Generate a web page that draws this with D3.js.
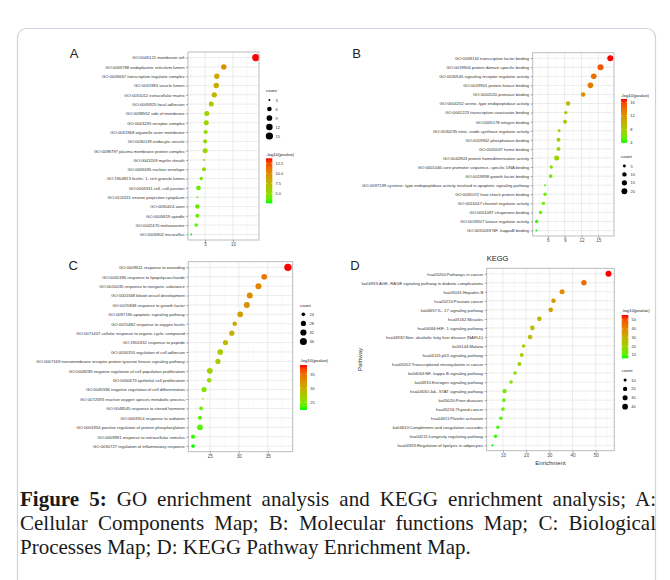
<!DOCTYPE html>
<html>
<head>
<meta charset="utf-8">
<script src="https://cdn.jsdelivr.net/npm/d3@7"></script>
<style>
  body { margin: 0; background: #fff; }
  #wrap { position: relative; width: 670px; height: 580px; overflow: hidden; }
  #wrap svg { position: absolute; left: 0; top: 0; }
  .cap {
    position: absolute; left: 20px; width: 636px;
    font-family: "Liberation Serif", "Times New Roman", serif;
    font-size: 21px; line-height: 24px; color: #1a1a1a; white-space: nowrap;
  }
  .cap.j { white-space: normal; text-align: justify; text-align-last: justify; }
</style>
</head>
<body>
<div id="wrap"></div>
<script>
// A: cellular components
const ccTerms = [
  'GO:0045121 membrane raft',
  'GO:0005788 endoplasmic reticulum lumen',
  'GO:0005667 transcription regulator complex',
  'GO:0031983 vesicle lumen',
  'GO:0031012 extracellular matrix',
  'GO:0005925 focal adhesion',
  'GO:0098552 side of membrane',
  'GO:0043235 receptor complex',
  'GO:0031968 organelle outer membrane',
  'GO:0030139 endocytic vesicle',
  'GO:0098797 plasma membrane protein complex',
  'GO:0043209 myelin sheath',
  'GO:0005635 nuclear envelope',
  'GO:1904813 ficolin- 1- rich granule lumen',
  'GO:0005911 cell- cell junction',
  'GO:0120111 neuron projection cytoplasm',
  'GO:0030424 axon',
  'GO:0005819 spindle',
  'GO:0042470 melanosome',
  'GO:0005902 microvillus',
]
const ccEnrich = [14.1, 8.35, 7.1, 7.0, 6.65, 6.1, 5.3, 5.2, 5.1, 5.0, 5.0, 4.8, 4.8, 4.3, 3.8, 3.6, 3.6, 3.6, 3.4, 2.5]
const ccCount = [15, 8, 8, 8, 8, 7, 7, 7, 5, 5, 7, 3, 5, 4, 6, 3, 6, 5, 4, 3]
const ccLogP = [13.75, 9.8, 8.3, 8.1, 7.6, 6.5, 5.6, 5.5, 5.3, 5.2, 5.4, 4.6, 4.8, 4.3, 3.8, 3.6, 3.7, 3.6, 3.3, 2.5]
const ccXTicks = [5, 10]
const ccCountBreaks = [3, 6, 9, 12, 15]
const ccColorBreaks = [5, 7.5, 10, 12.5]

// B: molecular functions
const mfTerms = [
  'GO:0008134 transcription factor binding',
  'GO:0019904 protein domain specific binding',
  'GO:0030545 signaling receptor regulator activity',
  'GO:0019901 protein kinase binding',
  'GO:0002020 protease binding',
  'GO:0004252 serine- type endopeptidase activity',
  'GO:0001223 transcription coactivator binding',
  'GO:0005178 integrin binding',
  'GO:0030235 nitric- oxide synthase regulator activity',
  'GO:0019902 phosphatase binding',
  'GO:0020037 heme binding',
  'GO:0042803 protein homodimerization activity',
  'GO:0001046 core promoter sequence- specific DNA binding',
  'GO:0019838 growth factor binding',
  'GO:0097199 cysteine- type endopeptidase activity involved in apoptotic signaling pathway',
  'GO:0031072 heat shock protein binding',
  'GO:0016247 channel regulator activity',
  'GO:0051087 chaperone binding',
  'GO:0019207 kinase regulator activity',
  'GO:0051059 NF- kappaB binding',
]
const mfEnrich = [17.15, 15.4, 14.2, 13.6, 12.3, 9.6, 9.2, 9.07, 8.0, 7.9, 7.9, 7.57, 6.6, 6.5, 5.5, 5.5, 5.2, 4.7, 4.0, 3.95]
const mfCount = [21, 21, 18, 18, 11, 10, 6, 8, 5, 8, 8, 14, 6, 7, 4, 6, 6, 6, 6, 4]
const mfLogP = [17, 15.2, 14.0, 13.6, 12.2, 9.4, 8.9, 8.8, 7.5, 7.4, 7.3, 7.6, 6.0, 6.0, 5.3, 5.4, 5.0, 4.8, 4.2, 3.9]
const mfXTicks = [6, 9, 12, 15]
const mfCountBreaks = [5, 10, 15, 20]
const mfColorBreaks = [4, 8, 12, 16]

// C: biological processes
const bpTerms = [
  'GO:0009611 response to wounding',
  'GO:0032496 response to lipopolysaccharide',
  'GO:0010035 response to inorganic substance',
  'GO:0001568 blood vessel development',
  'GO:0070848 response to growth factor',
  'GO:0097190 apoptotic signaling pathway',
  'GO:0070482 response to oxygen levels',
  'GO:0071407 cellular response to organic cyclic compound',
  'GO:1901652 response to peptide',
  'GO:0030155 regulation of cell adhesion',
  'GO:0007169 transmembrane receptor protein tyrosine kinase signaling pathway',
  'GO:0008285 negative regulation of cell population proliferation',
  'GO:0050673 epithelial cell proliferation',
  'GO:0045596 negative regulation of cell differentiation',
  'GO:0072593 reactive oxygen species metabolic process',
  'GO:0048545 response to steroid hormone',
  'GO:0009314 response to radiation',
  'GO:0001934 positive regulation of protein phosphorylation',
  'GO:0009991 response to extracellular stimulus',
  'GO:0050727 regulation of inflammatory response',
]
const bpEnrich = [38.5, 34.4, 33.4, 31.9, 31.4, 30.25, 29.3, 28.8, 27.7, 26.8, 26.4, 25.0, 24.9, 24.0, 23.8, 23.5, 23.3, 23.3, 22.1, 22.1]
const bpCount = [38, 30, 31, 31, 31, 30, 26, 28, 28, 30, 28, 30, 26, 28, 22, 24, 25, 30, 25, 24]
const bpLogP = [38.3, 34.3, 33.5, 33.0, 32.3, 31.5, 30.3, 30.0, 29.2, 28.0, 27.8, 26.8, 26.3, 25.0, 24.2, 24.0, 23.5, 23.3, 22.6, 22.25]
const bpXTicks = [25, 30, 35]
const bpCountBreaks = [24, 28, 32, 36]
const bpColorBreaks = [25, 30, 35]

// D: KEGG pathways
const keggTerms = [
  'hsa05200:Pathways in cancer',
  'ko04933:AGE- RAGE signaling pathway in diabetic complications',
  'hsa05161:Hepatitis B',
  'hsa05215:Prostate cancer',
  'ko04657:IL- 17 signaling pathway',
  'hsa05162:Measles',
  'hsa04066:HIF- 1 signaling pathway',
  'hsa04932:Non- alcoholic fatty liver disease (NAFLD)',
  'ko05144:Malaria',
  'hsa04115:p53 signaling pathway',
  'hsa05202:Transcriptional misregulation in cancer',
  'ko04064:NF- kappa B signaling pathway',
  'ko04915:Estrogen signaling pathway',
  'hsa04630:Jak- STAT signaling pathway',
  'ko05020:Prion diseases',
  'hsa05216:Thyroid cancer',
  'hsa04611:Platelet activation',
  'ko04610:Complement and coagulation cascades',
  'hsa04211:Longevity regulating pathway',
  'hsa04923:Regulation of lipolysis in adipocytes',
]
const keggEnrich = [55.5, 44.9, 35.5, 31.8, 30.6, 25.7, 22.7, 21.7, 18.9, 18.1, 17.1, 15.2, 13.5, 10.7, 10.4, 10.0, 9.1, 7.8, 6.8, 5.5]
const keggCount = [46, 35, 29, 23, 23, 23, 23, 23, 13, 16, 16, 13, 13, 21, 13, 13, 13, 12, 12, 8]
const keggLogP = [55.7, 45.5, 38.5, 35.5, 34.5, 28.5, 26.5, 25.5, 21.5, 20.5, 20, 16, 15, 12.5, 11.5, 11, 9.5, 8.5, 7.5, 6.2]
const keggXTicks = [10, 20, 30, 40, 50]
const keggCountBreaks = [10, 20, 30, 40]
const keggColorBreaks = [10, 20, 30, 40, 50]

const captionLines = [
  ['Figure 5:', ' GO enrichment analysis and KEGG enrichment analysis; A:'],
  ['', 'Cellular Components Map; B: Molecular functions Map; C: Biological'],
  ['', 'Processes Map; D: KEGG Pathway Enrichment Map.'],
]

const FONT = '"Liberation Sans", Arial, sans-serif'

const panels = [
  {
    id: 'A', terms: ccTerms, enrich: ccEnrich, count: ccCount, logp: ccLogP,
    xTicks: ccXTicks, countBreaks: ccCountBreaks, colorBreaks: ccColorBreaks, fmt: d3.format('.1f'),
    box: [188, 52, 259, 240], letter: [74, 53], r: [1, 3.6],
    legend: { x: 266, sizeTitle: 90, key0: 100, keyStep: 9, colorTitle: 154, bar: [158.3, 203.3], barW: 6.3 },
  },
  {
    id: 'B', terms: mfTerms, enrich: mfEnrich, count: mfCount, logp: mfLogP,
    xTicks: mfXTicks, countBreaks: mfCountBreaks, colorBreaks: mfColorBreaks, fmt: d3.format('d'),
    box: [532.7, 52.7, 614, 236], letter: [356.7, 53.3], r: [1, 3],
    legend: { x: 621, colorTitle: 95, bar: [99, 143], barW: 6, sizeTitle: 156, key0: 166, keyStep: 8.4 },
  },
  {
    id: 'C', terms: bpTerms, enrich: bpEnrich, count: bpCount, logp: bpLogP,
    xTicks: bpXTicks, countBreaks: bpCountBreaks, colorBreaks: bpColorBreaks, fmt: d3.format('d'),
    box: [188.3, 261.7, 292.7, 451.7], letter: [73.3, 265], r: [0.8, 3.7],
    legend: { x: 300, sizeTitle: 305, key0: 314.3, keyStep: 9.1, colorTitle: 360.7, bar: [365, 410], barW: 7 },
  },
  {
    id: 'D', terms: keggTerms, enrich: keggEnrich, count: keggCount, logp: keggLogP,
    xTicks: keggXTicks, countBreaks: keggCountBreaks, colorBreaks: keggColorBreaks, fmt: d3.format('d'),
    box: [486.7, 268.3, 614.3, 450.7], letter: [355, 265], r: [1.1, 3],
    legend: { x: 621.7, colorTitle: 310, bar: [315, 358.3], barW: 6.6, sizeTitle: 370.7, key0: 380, keyStep: 8.9 },
    title: 'KEGG', xTitle: 'Enrichment', yTitle: 'Pathway',
  },
]

const wrap = d3.select('#wrap')
const svg = wrap.append('svg').attr('width', 670).attr('height', 580)
  .style('font-family', FONT)

// page frame round the figure
svg.append('rect')
  .attr('x', 17.5).attr('y', 28.5).attr('width', 638).attr('height', 620).attr('rx', 9)
  .attr('fill', 'none').attr('stroke', '#cbd4df').attr('stroke-width', 1.2)

function drawPanel(p) {
  const [x0, y0, x1, y1] = p.box
  const ext = d3.extent(p.enrich)
  const pad = (ext[1] - ext[0]) * 0.05
  const x = d3.scaleLinear().domain([ext[0] - pad, ext[1] + pad]).range([x0, x1])
  const y = d3.scalePoint().domain(p.terms).range([y0, y1]).padding(0.6)
  const cExt = d3.extent(p.logp)
  const color = d3.scaleLinear().domain(cExt).range(['#00ff00', '#ff0000']).interpolate(d3.interpolateLab)
  const nExt = d3.extent(p.count)
  const rad = (c) => p.r[0] + Math.sqrt(Math.max(0, c - nExt[0]) / (nExt[1] - nExt[0])) * (p.r[1] - p.r[0])

  const g = svg.append('g').attr('class', `panel-${p.id}`)

  g.append('rect')
    .attr('x', x0).attr('y', y0).attr('width', x1 - x0).attr('height', y1 - y0)
    .attr('fill', '#fff')

  // minor grid between the major ticks
  const step = p.xTicks[1] - p.xTicks[0]
  const minor = []
  for (let v = p.xTicks[0] - step / 2; v <= x.domain()[1]; v += step) {
    if (v >= x.domain()[0]) minor.push(v)
  }
  g.selectAll('.minor').data(minor).join('line')
    .attr('x1', (d) => x(d)).attr('x2', (d) => x(d))
    .attr('y1', y0).attr('y2', y1)
    .attr('stroke', '#f2f2f2').attr('stroke-width', 0.5)

  g.selectAll('.vgrid').data(p.xTicks).join('line')
    .attr('x1', (d) => x(d)).attr('x2', (d) => x(d))
    .attr('y1', y0).attr('y2', y1)
    .attr('stroke', '#e4e4e4').attr('stroke-width', 0.7)

  g.selectAll('.hgrid').data(p.terms).join('line')
    .attr('x1', x0).attr('x2', x1)
    .attr('y1', (d) => y(d)).attr('y2', (d) => y(d))
    .attr('stroke', '#e4e4e4').attr('stroke-width', 0.7)

  // dots
  const rows = p.terms.map((t, i) => ({ term: t, e: p.enrich[i], n: p.count[i], lp: p.logp[i] }))
  g.selectAll('.dot').data(rows).join('circle')
    .attr('cx', (d) => x(d.e))
    .attr('cy', (d) => y(d.term))
    .attr('r', (d) => rad(d.n))
    .attr('fill', (d) => color(d.lp))

  g.append('rect')
    .attr('x', x0).attr('y', y0).attr('width', x1 - x0).attr('height', y1 - y0)
    .attr('fill', 'none').attr('stroke', '#b5b5b5').attr('stroke-width', 0.9)

  // axes
  const yAxis = d3.axisLeft(y).tickSize(2).tickPadding(1.5)
  g.append('g').attr('transform', `translate(${x0},0)`).call(yAxis)
    .call((a) => a.select('.domain').remove())
    .call((a) => a.selectAll('line').attr('stroke', '#555').attr('stroke-width', 0.5))
    .call((a) => a.selectAll('text').attr('font-size', 4.2).attr('fill', '#333').attr('font-family', FONT))
    .attr('font-family', null).attr('font-size', null)

  const xAxis = d3.axisBottom(x).tickValues(p.xTicks).tickSize(2).tickPadding(1)
  g.append('g').attr('transform', `translate(0,${y1})`).call(xAxis)
    .call((a) => a.select('.domain').remove())
    .call((a) => a.selectAll('line').attr('stroke', '#555').attr('stroke-width', 0.5))
    .call((a) => a.selectAll('text').attr('font-size', 4.6).attr('fill', '#4d4d4d').attr('font-family', FONT))
    .attr('font-family', null).attr('font-size', null)

  // panel letter
  svg.append('text')
    .attr('x', p.letter[0]).attr('y', p.letter[1])
    .attr('text-anchor', 'middle').attr('dominant-baseline', 'central')
    .attr('font-size', 13).attr('fill', '#222')
    .text(p.id)

  if (p.title) {
    g.append('text').attr('x', x0).attr('y', y0 - 10.3)
      .attr('dominant-baseline', 'central')
      .attr('font-size', 7.5).attr('fill', '#222')
      .text(p.title)
  }
  if (p.xTitle) {
    g.append('text').attr('x', (x0 + x1) / 2).attr('y', y1 + 12)
      .attr('text-anchor', 'middle').attr('dominant-baseline', 'central')
      .attr('font-size', 6).attr('fill', '#333')
      .text(p.xTitle)
  }
  if (p.yTitle) {
    g.append('text')
      .attr('transform', `translate(360,${(y0 + y1) / 2}) rotate(-90)`)
      .attr('text-anchor', 'middle').attr('dominant-baseline', 'central')
      .attr('font-size', 6).attr('fill', '#333')
      .text(p.yTitle)
  }

  // legends
  const L = p.legend
  const keyCx = L.x + 3.4
  const lg = g.append('g')

  lg.append('text').attr('x', L.x).attr('y', L.sizeTitle)
    .attr('dominant-baseline', 'central').attr('font-size', 4.4).attr('fill', '#222')
    .text('count')
  lg.selectAll('.key').data(p.countBreaks).join('circle')
    .attr('cx', keyCx)
    .attr('cy', (d, i) => L.key0 + i * L.keyStep)
    .attr('r', (d) => rad(d))
    .attr('fill', '#000')
  lg.selectAll('.keylab').data(p.countBreaks).join('text')
    .attr('x', L.x + 9.5)
    .attr('y', (d, i) => L.key0 + i * L.keyStep)
    .attr('dominant-baseline', 'central').attr('font-size', 4).attr('fill', '#333')
    .text((d) => d)

  lg.append('text').attr('x', L.x).attr('y', L.colorTitle)
    .attr('dominant-baseline', 'central').attr('font-size', 4.4).attr('fill', '#222')
    .text('-log10(pvalue)')

  const gradId = `grad-${p.id}`
  const grad = svg.append('defs').append('linearGradient')
    .attr('id', gradId).attr('x1', 0).attr('y1', 1).attr('x2', 0).attr('y2', 0)
  grad.selectAll('stop').data(d3.range(0, 1.0001, 0.1)).join('stop')
    .attr('offset', (d) => d)
    .attr('stop-color', (d) => color(cExt[0] + d * (cExt[1] - cExt[0])))

  const [b0, b1] = L.bar
  lg.append('rect')
    .attr('x', L.x).attr('y', b0).attr('width', L.barW).attr('height', b1 - b0)
    .attr('fill', `url(#${gradId})`)
  const cb = d3.scaleLinear().domain(cExt).range([b1, b0])
  const inBar = p.colorBreaks.filter((v) => v >= cExt[0] && v <= cExt[1])
  lg.selectAll('.cbtick').data(inBar).join('path')
    .attr('d', (d) => `M${L.x},${cb(d)}h1.3M${L.x + L.barW},${cb(d)}h-1.3`)
    .attr('stroke', '#fff').attr('stroke-width', 0.5)
  lg.selectAll('.cblab').data(inBar).join('text')
    .attr('x', L.x + L.barW + 3.2)
    .attr('y', (d) => cb(d))
    .attr('dominant-baseline', 'central').attr('font-size', 4).attr('fill', '#333')
    .text((d) => p.fmt(d))
}

panels.forEach(drawPanel)

// caption under the figure
wrap.selectAll('div.cap').data(captionLines).join('div')
  .attr('class', (d, i) => (i < captionLines.length - 1 ? 'cap j' : 'cap'))
  .style('top', (d, i) => `${487 + i * 24}px`)
  .each(function (d) {
    const line = d3.select(this)
    if (d[0]) line.append('b').text(d[0])
    line.append('span').text(d[1])
  })
</script>
</body>
</html>
